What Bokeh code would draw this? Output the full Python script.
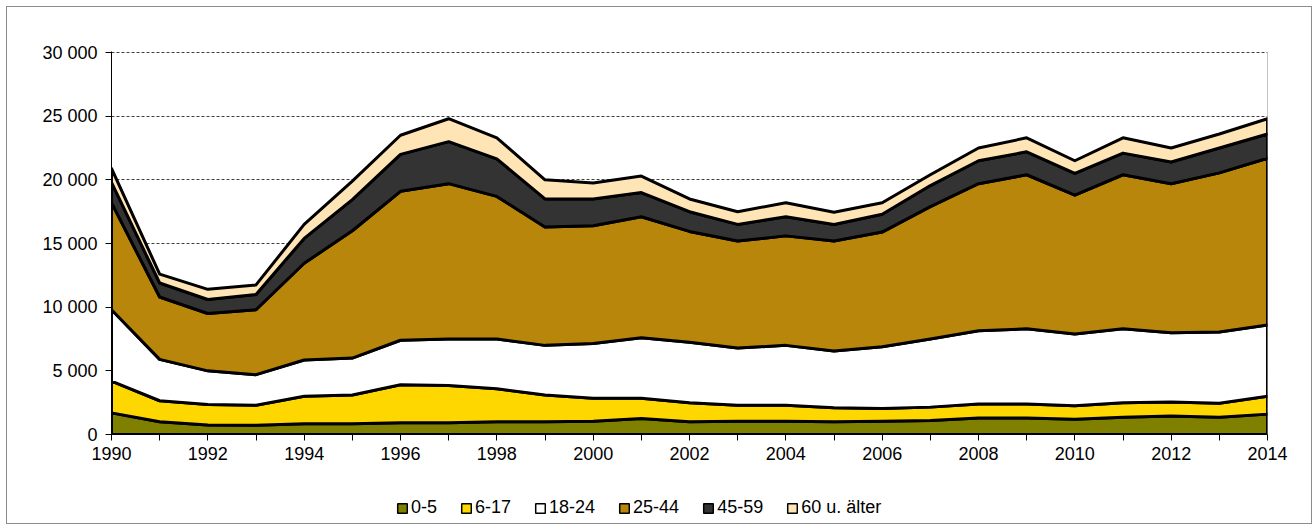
from bokeh.plotting import figure
from bokeh.models import Range1d, FixedTicker, CustomJSTickFormatter, Legend, LegendItem, Span
from bokeh.layouts import column
from bokeh.embed import file_html
from bokeh.resources import INLINE

years = list(range(1990, 2015))
series_names = ["0-5", "6-17", "18-24", "25-44", "45-59", "60 u. älter"]
colors = ["#808000", "#FFD700", "#FFFFFF", "#B8860B", "#333333", "#FFE4B5"]

age_0_5 = [1700, 1000, 750, 720, 850, 840, 920, 920, 1000, 1000, 1050, 1250, 1000,
           1050, 1050, 1000, 1050, 1100, 1300, 1300, 1200, 1350, 1450, 1350, 1600]
age_6_17 = [2500, 1650, 1600, 1580, 2150, 2260, 2980, 2930, 2600, 2100, 1800, 1600, 1500,
            1250, 1250, 1100, 1000, 1050, 1100, 1100, 1050, 1150, 1100, 1100, 1400]
age_18_24 = [5600, 3250, 2650, 2400, 2850, 2900, 3500, 3650, 3900, 3900, 4300, 4750, 4750,
             4500, 4700, 4450, 4850, 5350, 5750, 5900, 5650, 5800, 5450, 5600, 5600]
age_25_44 = [8400, 4900, 4500, 5100, 7600, 10000, 11700, 12200, 11200, 9300, 9250, 9500, 8700,
             8400, 8600, 8650, 9000, 10400, 11550, 12100, 10900, 12100, 11700, 12500, 13100]
age_45_59 = [1600, 1100, 1100, 1200, 1950, 2450, 2900, 3300, 2950, 2200, 2100, 1900, 1550,
             1300, 1500, 1300, 1400, 1650, 1800, 1800, 1700, 1700, 1700, 1950, 1900]
age_60 = [1100, 700, 800, 750, 1100, 1450, 1500, 1800, 1650, 1500, 1250, 1300, 1000,
          1000, 1100, 950, 900, 850, 1000, 1100, 1000, 1200, 1100, 1100, 1200]

y_ticks = [0, 5000, 10000, 15000, 20000, 25000, 30000]
x_label_years = list(range(1990, 2015, 2))
x_minor_years = list(range(1991, 2014, 2))

FONT = "Liberation Sans"
FS = "18px"

p = figure(width=1304, height=464, output_backend="svg", toolbar_location=None,
           x_range=Range1d(1990, 2014), y_range=Range1d(0, 30080),
           min_border_left=104, min_border_right=44, min_border_top=44, min_border_bottom=37)
p.outline_line_color = None
p.background_fill_color = "white"

# grid
p.xgrid.visible = False
p.ygrid.ticker = FixedTicker(ticks=y_ticks)
p.ygrid.grid_line_color = "#404040"
p.ygrid.grid_line_dash = "3 2"
p.ygrid.grid_line_width = 1

p.add_layout(Span(location=2014, dimension="height", line_color="#8c8c8c", line_width=1, level="underlay"))

# stacked areas
all_series = [age_0_5, age_6_17, age_18_24, age_25_44, age_45_59, age_60]
bottom = [0] * len(years)
for vals, col in zip(all_series, colors):
    top = [b + v for b, v in zip(bottom, vals)]
    xs = years + years[::-1]
    ys = top + bottom[::-1]
    p.patch(xs, ys, fill_color=col, line_color="black", line_width=3, line_join="round")
    bottom = top

# axes
p.yaxis.ticker = FixedTicker(ticks=y_ticks)
p.yaxis.formatter = CustomJSTickFormatter(code="return tick.toString().replace(/\\B(?=(\\d{3})+(?!\\d))/g, ' ');")
p.xaxis.ticker = FixedTicker(ticks=x_label_years, minor_ticks=x_minor_years)
for ax in (p.xaxis[0], p.yaxis[0]):
    ax.axis_line_color = "black"
    ax.axis_line_width = 1
    ax.major_tick_line_color = "black"
    ax.minor_tick_line_color = "black"
    ax.major_tick_in = 0
    ax.major_tick_out = 6
    ax.minor_tick_in = 0
    ax.minor_tick_out = 6
    ax.major_label_text_font = FONT
    ax.major_label_text_font_size = FS
    ax.major_label_text_color = "black"
p.yaxis.minor_tick_line_color = None
p.yaxis.major_label_standoff = 8
p.xaxis.major_label_standoff = 6

# legend strip (separate figure below the chart); swatch renderers sit outside its visible range
leg = figure(width=1304, height=52, output_backend="svg", toolbar_location=None,
             x_range=Range1d(0, 1), y_range=Range1d(0, 1), min_border=0)
leg.axis.visible = False
leg.grid.visible = False
leg.outline_line_color = None
leg_renderers = []
for col in colors:
    r = leg.patch([5, 6, 6], [5, 5, 6], fill_color=col, line_color="black", line_width=1.5)
    leg_renderers.append(r)
legend = Legend(items=[LegendItem(label=n, renderers=[r]) for n, r in zip(series_names, leg_renderers)],
                orientation="horizontal", location=(285, 5),
                label_text_font=FONT, label_text_font_size=FS, label_text_color="black",
                glyph_width=12, glyph_height=12, label_standoff=3, spacing=23,
                padding=0, margin=0, border_line_alpha=0, background_fill_alpha=0)
leg.add_layout(legend, "center")

layout = column(p, leg, spacing=0, styles={"border": "1px solid #8c8c8c", "margin": "6px"})

open("out.html", "w").write(file_html(layout, INLINE))
